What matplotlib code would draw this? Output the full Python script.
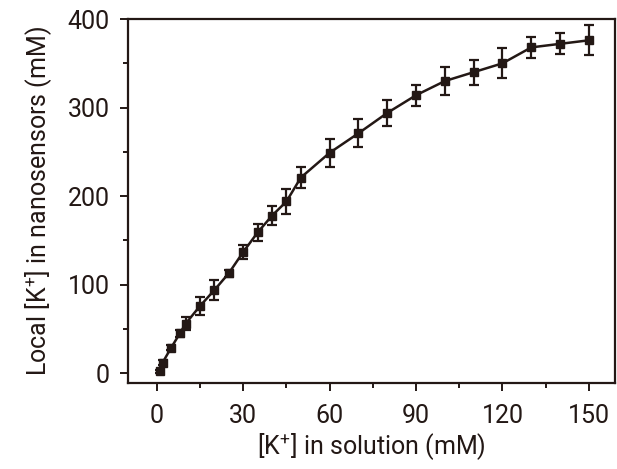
# K+ calibration curve: local vs solution concentration

import matplotlib
matplotlib.use('Agg')
import matplotlib.pyplot as plt
import numpy as np

conc_solution = [1, 2, 5, 8, 10, 15, 20, 25, 30, 35, 40, 45, 50,
                 60, 70, 80, 90, 100, 110, 120, 130, 140, 150]
conc_local = [2, 12, 29, 45, 56, 76, 94, 113, 137, 159, 178, 194, 221,
              249, 271, 294, 314, 330, 340, 350, 368, 372, 376]
conc_err = [2, 3, 3, 4, 7, 10, 11, 4, 8, 10, 11, 14, 12,
            16, 16, 15, 12, 16, 14, 17, 12, 12, 17]

ink = '#231815'

plt.rcParams['font.family'] = ['Roboto', 'DejaVu Sans']
plt.rcParams['mathtext.default'] = 'regular'

fig = plt.figure(figsize=(6.17, 4.69), dpi=100)
ax = fig.add_axes([0.2075, 0.1834, 0.789, 0.776])

ax.errorbar(conc_solution, conc_local, yerr=conc_err, color=ink,
            marker='s', markersize=6.3, linewidth=1.8,
            elinewidth=1.6, capsize=3.8, capthick=1.6)

ax.set_xlim(-10, 159)
ax.set_ylim(-11, 400)
ax.set_xticks(np.arange(0, 151, 30))
ax.set_xticks(np.arange(15, 151, 30), minor=True)
ax.set_yticks(np.arange(0, 401, 100))
ax.set_yticks(np.arange(50, 401, 100), minor=True)

for s in ax.spines.values():
    s.set_linewidth(1.6)
    s.set_color(ink)

ax.tick_params(which='major', length=6, width=1.4, color=ink,
               labelsize=18, labelcolor=ink, pad=7)
ax.tick_params(axis='x', which='major', pad=9)
ax.tick_params(which='minor', length=3.5, width=1.4, color=ink)

ax.set_xlabel('[K$^{+}$] in solution (mM)', fontsize=18, color=ink, labelpad=2)
ax.set_ylabel('Local [K$^{+}$] in nanosensors (mM)', fontsize=18, color=ink, labelpad=10)

fig.savefig('out.png', dpi=100)
